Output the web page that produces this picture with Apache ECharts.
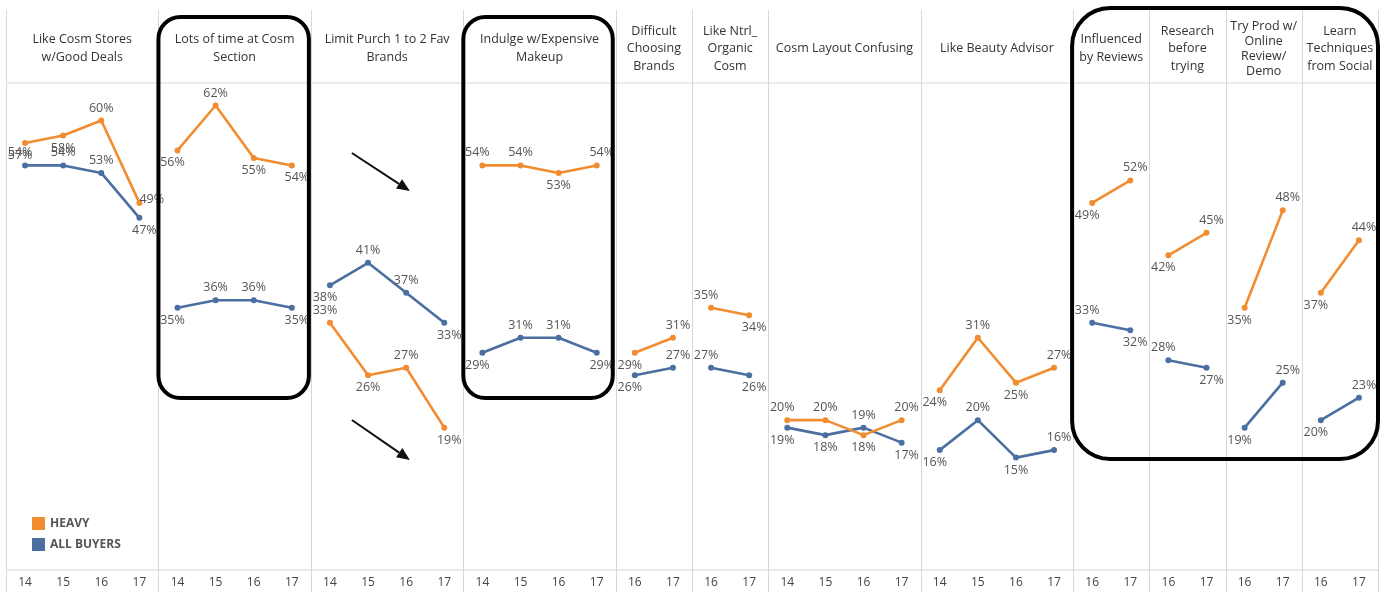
<!DOCTYPE html>
<html>
<head>
<meta charset="utf-8">
<script src="https://cdn.jsdelivr.net/npm/echarts@6/dist/echarts.min.js"></script>
<style>
  html, body { margin: 0; padding: 0; background: #fff; }
  #chart { width: 1380px; height: 592px; }
</style>
</head>
<body>
<div id="chart"></div>
<script>
// Panel headers (explicit line breaks as laid out in the header row)
const panelTitles = [
  'Like Cosm Stores\nw/Good Deals',
  'Lots of time at Cosm\nSection',
  'Limit Purch 1 to 2 Fav\nBrands',
  'Indulge w/Expensive\nMakeup',
  'Difficult\nChoosing\nBrands',
  'Like Ntrl_\nOrganic\nCosm',
  'Cosm Layout Confusing',
  'Like Beauty Advisor',
  'Influenced\nby Reviews',
  'Research\nbefore\ntrying',
  'Try Prod w/\nOnline\nReview/\nDemo',
  'Learn\nTechniques\nfrom Social'
];

// Survey years shown under each panel
const fullYears = ['14', '15', '16', '17'];
const lateYears = ['16', '17'];
const panelYears = [
  fullYears, fullYears, fullYears, fullYears,
  lateYears, lateYears,
  fullYears, fullYears,
  lateYears, lateYears, lateYears, lateYears
];

// Share of respondents agreeing (%) — heavy cosmetics buyers
const heavy = [
  [57, 58, 60, 49],
  [56, 62, 55, 54],
  [33, 26, 27, 19],
  [54, 54, 53, 54],
  [29, 31],
  [35, 34],
  [20, 20, 18, 20],
  [24, 31, 25, 27],
  [49, 52],
  [42, 45],
  [35, 48],
  [37, 44]
];

// Share of respondents agreeing (%) — all buyers
const allBuyers = [
  [54, 54, 53, 47],
  [35, 36, 36, 35],
  [38, 41, 37, 33],
  [29, 31, 31, 29],
  [26, 27],
  [27, 26],
  [19, 18, 19, 17],
  [16, 20, 15, 16],
  [33, 32],
  [28, 27],
  [19, 25],
  [20, 23]
];

const seriesNames = ['HEAVY', 'ALL BUYERS'];
const seriesColors = ['#F28C30', '#4A6FA0'];

// ---- layout ----
const W = 1380, H = 592;
const GL = 6, GR = 1378, GT = 83, GB = 570, FRAME_TOP = 10;
const FONT = '"Open Sans", "Noto Sans", sans-serif';

// slot offsets for each panel on the shared category axis
const offsets = [];
let nSlots = 0;
panelYears.forEach(ys => { offsets.push(nSlots); nSlots += ys.length; });
const slotW = (GR - GL) / nSlots;
const categories = [].concat(...panelYears);

// label side: above a point that sits at/above its neighbours' level, else below;
// a steep final drop puts the label beside the point instead
function labelSide(vals, other, i) {
  const n = vals.length;
  let ref;
  if (i === 0) ref = vals[1];
  else if (i === n - 1) ref = vals[n - 2];
  else ref = (vals[i - 1] + vals[i + 1]) / 2;
  let up = vals[i] >= ref;
  if (up && other[i] > vals[i] && other[i] - vals[i] <= 2) up = false;
  if (!up && i === n - 1 && n > 2 && vals[n - 2] - vals[i] > 8 && vals[i] > other[i]) return 'right';
  return up ? 'top' : 'bottom';
}

function buildSeries(groups, others, gi) {
  return groups.map((vals, p) => {
    const data = new Array(nSlots).fill(null);
    vals.forEach((v, i) => {
      const n = vals.length;
      const pos = labelSide(vals, others[p], i);
      const dx = pos === 'right' ? -6 : (i === 0 ? -5 : (i === n - 1 ? 5 : 0));
      data[offsets[p] + i] = {
        value: v,
        label: { position: pos, offset: [dx, pos === 'right' ? -3 : 0] }
      };
    });
    return {
      name: seriesNames[gi],
      type: 'line',
      data: data,
      connectNulls: false,
      symbol: 'circle',
      symbolSize: 6,
      color: seriesColors[gi],
      lineStyle: { width: 2.6, color: seriesColors[gi] },
      itemStyle: { color: seriesColors[gi] },
      z: gi === 0 ? 3 : 2,
      label: {
        show: true,
        formatter: '{c}%',
        color: '#555',
        fontSize: 12.5,
        fontFamily: FONT,
        distance: 3
      },
      emphasis: { disabled: true }
    };
  });
}

const series = [].concat(
  buildSeries(heavy, allBuyers, 0),
  buildSeries(allBuyers, heavy, 1)
);

// ---- frame, headers and annotations ----
const gridColor = '#d8d8d8';
const graphics = [];
// header / axis rules
graphics.push({ type: 'line', shape: { x1: GL, y1: GT, x2: GR, y2: GT }, style: { stroke: gridColor, lineWidth: 1 }, silent: true });
graphics.push({ type: 'line', shape: { x1: GL, y1: GB, x2: GR, y2: GB }, style: { stroke: gridColor, lineWidth: 1 }, silent: true });
// panel separators
const bounds = offsets.concat([nSlots]);
bounds.forEach(b => {
  const x = Math.round(GL + b * slotW) + 0.5;
  graphics.push({ type: 'line', shape: { x1: x, y1: FRAME_TOP, x2: x, y2: H }, style: { stroke: gridColor, lineWidth: 1 }, silent: true });
});
// panel headers
panelTitles.forEach((t, p) => {
  const cx = GL + (offsets[p] + panelYears[p].length / 2) * slotW;
  const lines = t.split('\n').length;
  graphics.push({
    type: 'text',
    silent: true,
    style: {
      text: t,
      x: cx,
      y: (FRAME_TOP + GT) / 2 + 2,
      align: 'center',
      verticalAlign: 'middle',
      lineHeight: lines > 3 ? 15 : 17.5,
      fill: '#333',
      font: '12.5px ' + FONT
    }
  });
});

// rounded highlight boxes around selected panels
function panelX(p) { return GL + offsets[p] * slotW; }
function box(x1, x2, y1, y2, r) {
  return {
    type: 'rect',
    silent: true,
    z: 50,
    shape: { x: x1, y: y1, width: x2 - x1, height: y2 - y1, r: r },
    style: { fill: 'none', stroke: '#000', lineWidth: 4 }
  };
}
graphics.push(box(panelX(1), panelX(2) - 2, 17, 398, 22));
graphics.push(box(panelX(3), panelX(4) - 3, 17, 398, 22));
graphics.push(box(panelX(8) - 1, GR, 8, 459, 38));

// trend arrows in the "Limit Purch" panel
function arrow(x1, y1, x2, y2) {
  const ang = Math.atan2(y2 - y1, x2 - x1);
  const len = 13, half = 5.5;
  const bx = x2 - len * Math.cos(ang), by = y2 - len * Math.sin(ang);
  const px = -Math.sin(ang) * half, py = Math.cos(ang) * half;
  return [
    { type: 'line', silent: true, z: 50, shape: { x1: x1, y1: y1, x2: bx, y2: by }, style: { stroke: '#111', lineWidth: 2 } },
    { type: 'polygon', silent: true, z: 50, shape: { points: [[x2, y2], [bx + px, by + py], [bx - px, by - py]] }, style: { fill: '#111' } }
  ];
}
const ax0 = panelX(2);
graphics.push(...arrow(ax0 + 41, 153, ax0 + 99, 191));
graphics.push(...arrow(ax0 + 41, 420, ax0 + 99, 460));

const chart = echarts.init(document.getElementById('chart'), null, { renderer: 'canvas' });
chart.setOption({
  animation: false,
  backgroundColor: '#fff',
  textStyle: { fontFamily: FONT },
  grid: { left: GL, right: W - GR, top: GT, bottom: H - GB, containLabel: false },
  legend: {
    data: seriesNames,
    orient: 'vertical',
    left: 27,
    top: 512,
    icon: 'rect',
    itemWidth: 13,
    itemHeight: 13,
    itemGap: 8,
    selectedMode: false,
    textStyle: { color: '#555', fontSize: 12, fontWeight: 'bold', fontFamily: FONT }
  },
  xAxis: {
    type: 'category',
    data: categories,
    boundaryGap: true,
    axisLine: { show: false },
    axisTick: { show: false },
    splitLine: { show: false },
    axisLabel: { color: '#444', fontSize: 12, margin: 7, interval: 0, fontFamily: FONT }
  },
  yAxis: {
    type: 'value',
    min: 0,
    max: 65,
    show: false,
    splitLine: { show: false }
  },
  series: series,
  graphic: graphics
});
</script>
</body>
</html>
